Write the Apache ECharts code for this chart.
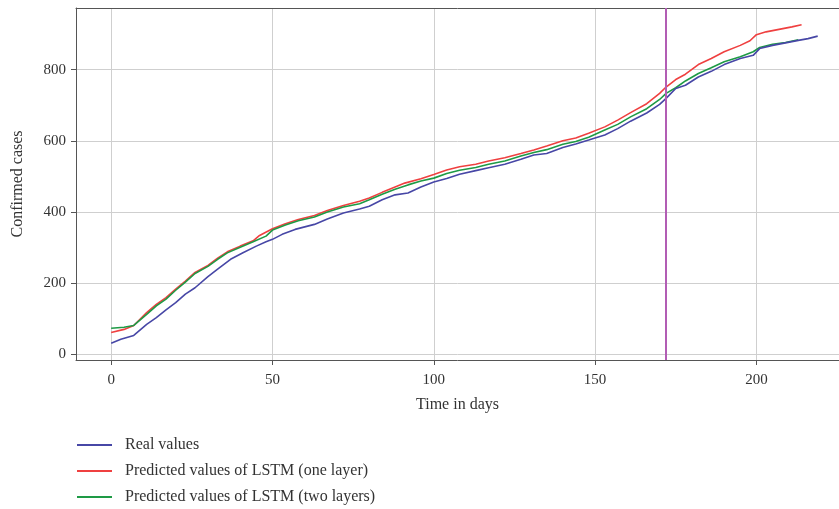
<!DOCTYPE html>
<html lang="en">
<head>
    <meta charset="utf-8">
    <title>Confirmed cases LSTM</title>
    <script src="https://cdn.jsdelivr.net/npm/echarts@6/dist/echarts.min.js"></script>
    <style>
        html, body { margin: 0; padding: 0; background: #fff; }
        #main { width: 839px; height: 509px; }
    </style>
</head>
<body>
<div id="main"></div>
<script>
    // days / values
    var realDays = [0, 3, 7, 11, 14, 17, 20, 23, 26, 30, 33, 37, 41, 45, 48, 50, 53, 57, 63, 67, 72, 77, 80, 84, 88, 92, 96, 100, 104, 108, 113, 117, 122, 127, 131, 135, 140, 144, 148, 153, 157, 161, 166, 170, 172, 175, 178, 182, 186, 190, 195, 199, 201, 205, 209, 213, 216, 219];
    var realValues = [31, 42, 53, 84, 103, 125, 145, 169, 187, 218, 239, 267, 286, 304, 316, 323, 337, 351, 365, 380, 397, 408, 416, 434, 448, 453, 470, 484, 494, 506, 516, 524, 534, 548, 560, 564, 581, 591, 602, 616, 634, 655, 678, 702, 719, 747, 756, 779, 795, 814, 831, 840, 859, 868, 875, 882, 887, 894];

    var oneLayerDays = [0, 4, 7, 11, 14, 17, 20, 23, 26, 30, 33, 36, 40, 44, 46, 50, 54, 58, 63, 67, 72, 77, 80, 84, 88, 91, 96, 100, 104, 108, 113, 117, 122, 127, 131, 135, 140, 144, 148, 153, 157, 161, 166, 170, 172, 175, 178, 182, 186, 190, 195, 198, 200, 203, 207, 211, 214];
    var oneLayerValues = [61, 70, 81, 117, 140, 159, 183, 206, 230, 250, 270, 288, 304, 319, 334, 353, 367, 379, 390, 404, 418, 430, 439, 455, 470, 481, 493, 505, 518, 527, 534, 543, 552, 564, 574, 585, 600, 608, 621, 639, 658, 679, 704, 733, 751, 772, 787, 814, 831, 850, 868, 881, 898, 906, 913, 920, 926];

    var twoLayerDays = [0, 4, 7, 11, 14, 17, 20, 23, 26, 30, 33, 36, 40, 44, 48, 50, 54, 58, 63, 67, 72, 77, 80, 84, 88, 92, 96, 100, 104, 108, 113, 117, 122, 127, 131, 135, 140, 144, 148, 153, 157, 161, 166, 170, 172, 175, 178, 182, 186, 190, 195, 199, 201, 205, 209, 213];
    var twoLayerValues = [73, 76, 81, 112, 136, 155, 180, 203, 227, 247, 267, 285, 301, 316, 332, 349, 363, 375, 386, 400, 414, 423, 434, 450, 464, 476, 487, 495, 508, 517, 525, 534, 543, 557, 567, 575, 590, 598, 610, 630, 646, 667, 690, 716, 733, 749, 768, 789, 805, 822, 836, 850, 862, 871, 876, 884];

    var xTicks = [0, 50, 100, 150, 200];
    var yTicks = [0, 200, 400, 600, 800];
    var splitDay = 172;

    var seriesNames = ['Real values', 'Predicted values of LSTM (one layer)', 'Predicted values of LSTM (two layers)'];

    function pairs(days, values) {
        var out = [];
        for (var i = 0; i < days.length; i++) {
            out.push([days[i], values[i]]);
        }
        return out;
    }

    var font = 'Liberation Serif';
    var axisColor = '#555';
    var myChart = echarts.init(document.getElementById('main'));

    var option = {
        animation: false,
        textStyle: {fontFamily: font},
        color: ['#4747a6', '#ef4040', '#1e9a45'],
        grid: {left: 76, right: 0, top: 8, bottom: 149},
        legend: {
            orient: 'vertical',
            left: 77,
            top: 435,
            padding: 0,
            icon: 'rect',
            itemWidth: 35,
            itemHeight: 2,
            itemGap: 6,
            data: seriesNames,
            textStyle: {
                fontFamily: font, fontSize: 16, color: '#333',
                lineHeight: 20, padding: [0, 0, 0, 8]
            }
        },
        xAxis: [
            {
                type: 'value',
                min: -10.9,
                max: 225.6,
                name: 'Time in days',
                nameLocation: 'middle',
                nameGap: 37,
                nameTextStyle: {fontFamily: font, fontSize: 16, color: '#333'},
                axisLine: {show: true, onZero: false, lineStyle: {color: axisColor, width: 1}},
                axisTick: {show: true, length: 5, customValues: xTicks, lineStyle: {color: axisColor}},
                axisLabel: {customValues: xTicks, fontFamily: font, fontSize: 15, color: '#333', margin: 13},
                splitLine: {show: true, lineStyle: {color: '#cfcfcf', width: 1}}
            },
            {
                // top frame line only
                type: 'value',
                position: 'top',
                min: -10.9,
                max: 225.6,
                axisLine: {show: true, onZero: false, lineStyle: {color: axisColor, width: 1}},
                axisTick: {show: false},
                axisLabel: {show: false},
                splitLine: {show: false}
            }
        ],
        yAxis: {
            type: 'value',
            min: -16,
            max: 973,
            name: 'Confirmed cases',
            nameLocation: 'middle',
            nameGap: 50,
            nameTextStyle: {fontFamily: font, fontSize: 16, color: '#333'},
            axisLine: {show: true, onZero: false, lineStyle: {color: axisColor, width: 1}},
            axisTick: {show: true, length: 5, customValues: yTicks, lineStyle: {color: axisColor}},
            axisLabel: {customValues: yTicks, fontFamily: font, fontSize: 15, color: '#333', margin: 10},
            splitLine: {show: true, lineStyle: {color: '#cfcfcf', width: 1}}
        },
        series: [
            {
                name: seriesNames[0],
                type: 'line',
                showSymbol: false,
                lineStyle: {width: 1.6},
                data: pairs(realDays, realValues),
                z: 4,
                markLine: {
                    silent: true,
                    symbol: 'none',
                    label: {show: false},
                    lineStyle: {color: '#b25db4', width: 2, type: 'solid'},
                    data: [{xAxis: splitDay}]
                }
            },
            {
                name: seriesNames[1],
                type: 'line',
                showSymbol: false,
                lineStyle: {width: 1.6},
                data: pairs(oneLayerDays, oneLayerValues),
                z: 3
            },
            {
                name: seriesNames[2],
                type: 'line',
                showSymbol: false,
                lineStyle: {width: 1.6},
                data: pairs(twoLayerDays, twoLayerValues),
                z: 3
            }
        ]
    };

    myChart.setOption(option);
</script>
</body>
</html>
